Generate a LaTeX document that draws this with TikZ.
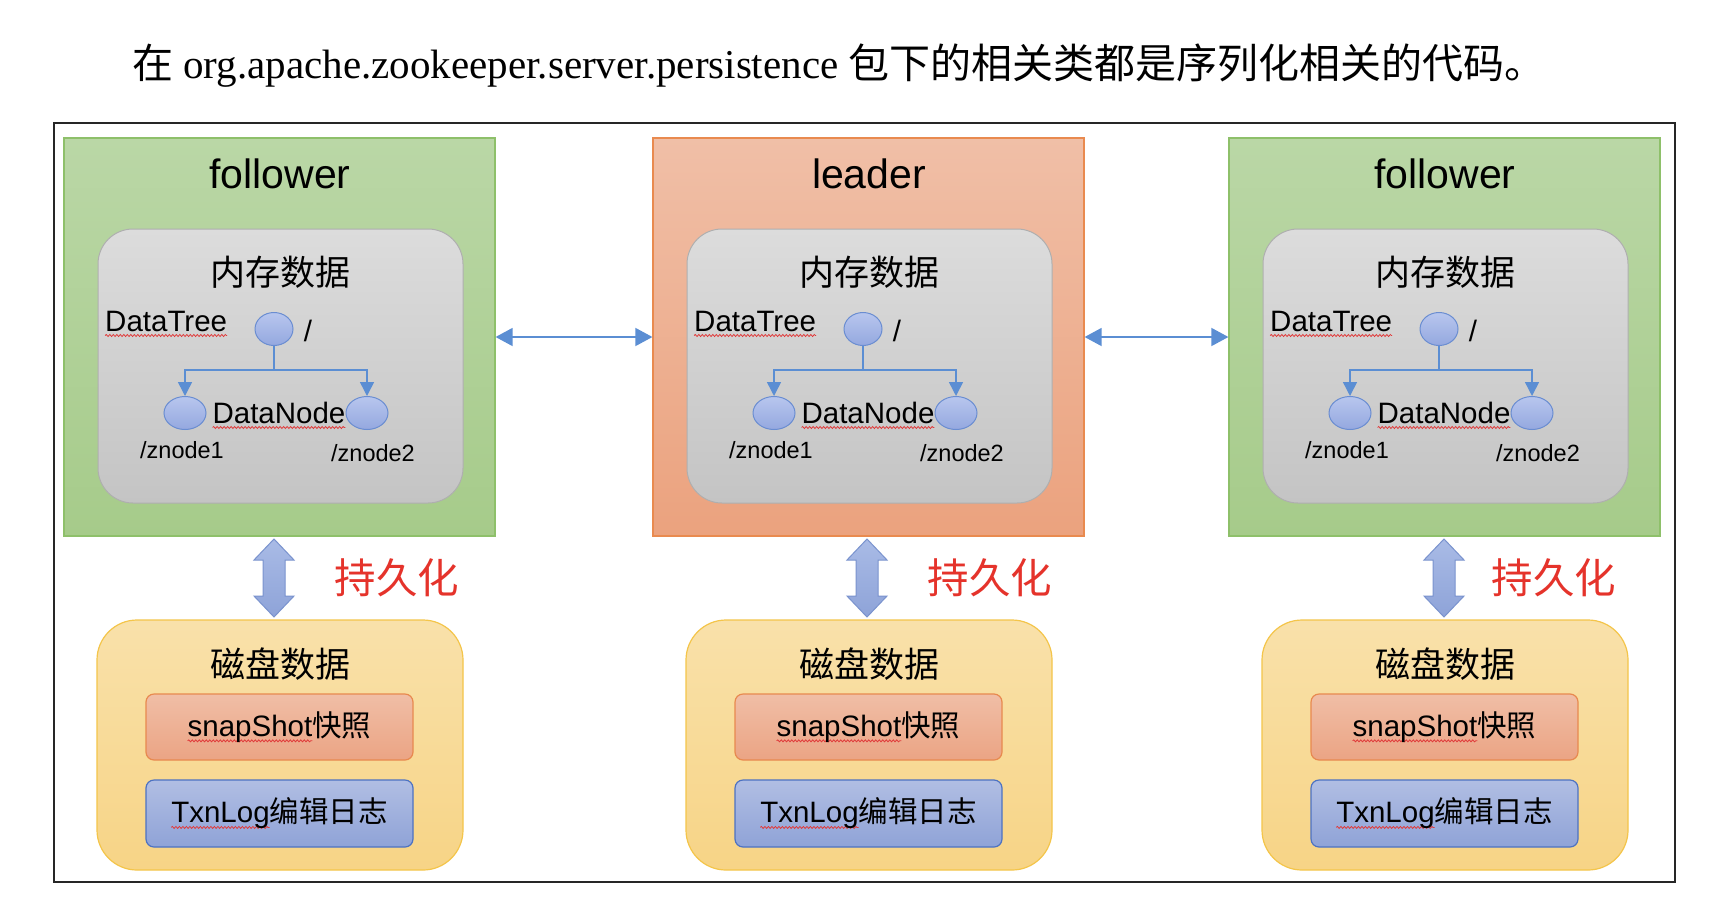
\documentclass[tikz,border=0pt]{standalone}
\usepackage{fontspec}
\setmainfont{Liberation Serif}
\newfontfamily\lsans{Liberation Sans}
\newfontfamily\cjk{Noto Sans CJK SC}
\usetikzlibrary{shapes.geometric,arrows.meta,decorations.pathmorphing}
\definecolor{gTop}{HTML}{BAD7A6}
\definecolor{gBot}{HTML}{A6CB8A}
\definecolor{gBd}{HTML}{8EC06A}
\definecolor{oTop}{HTML}{F0BFA7}
\definecolor{oBot}{HTML}{EBA27E}
\definecolor{oBd}{HTML}{E98A4F}
\definecolor{memTop}{HTML}{DCDCDC}
\definecolor{memBot}{HTML}{C4C4C4}
\definecolor{memBd}{HTML}{AFAFAF}
\definecolor{diskTop}{HTML}{F9E1AA}
\definecolor{diskBot}{HTML}{F7D486}
\definecolor{diskBd}{HTML}{F4C54A}
\definecolor{snapTop}{HTML}{F0BEA6}
\definecolor{snapBot}{HTML}{EBA484}
\definecolor{snapBd}{HTML}{E8894F}
\definecolor{txnTop}{HTML}{B1BEE3}
\definecolor{txnBot}{HTML}{8FA3D7}
\definecolor{txnBd}{HTML}{4D72C2}
\definecolor{zTop}{HTML}{B8C6EE}
\definecolor{zBot}{HTML}{94A8DF}
\definecolor{zBd}{HTML}{6A8DD1}
\definecolor{linkcol}{HTML}{5B8ED3}
\definecolor{perTop}{HTML}{A9BBE6}
\definecolor{perBot}{HTML}{8EA3D8}
\definecolor{perBd}{HTML}{7A93CE}
\definecolor{redtext}{HTML}{E5332B}
\definecolor{squigred}{HTML}{E03A3A}
\newsavebox\squigbox
\newcommand\squig[1]{\sbox\squigbox{#1}\rlap{\tikz[overlay,baseline=0pt]\draw[squigred,line width=0.8pt,decorate,decoration={snake,amplitude=1pt,segment length=3.5pt}](0pt,-4.5pt)--(\wd\squigbox,-4.5pt);}\usebox\squigbox}
\begin{document}
\begin{tikzpicture}[x=1pt,y=-1pt,
  frame/.style={draw=black!85,line width=1.5pt,rectangle,minimum width=1621,minimum height=759,inner sep=0},
  server/.style={rectangle,minimum width=431,minimum height=398,line width=1.2pt,inner sep=0},
  membox/.style={rectangle,rounded corners=35pt,minimum width=365,minimum height=274,top color=memTop,bottom color=memBot,draw=memBd,line width=1pt,inner sep=0},
  diskbox/.style={rectangle,rounded corners=40pt,minimum width=366,minimum height=250,top color=diskTop,bottom color=diskBot,draw=diskBd,line width=1.2pt,inner sep=0},
  snapbox/.style={rectangle,rounded corners=8pt,minimum width=267,minimum height=66,top color=snapTop,bottom color=snapBot,draw=snapBd,line width=1.2pt,inner sep=0},
  txnbox/.style={rectangle,rounded corners=8pt,minimum width=267,minimum height=67,top color=txnTop,bottom color=txnBot,draw=txnBd,line width=1.2pt,inner sep=0},
  znode/.style={ellipse,minimum width=40,minimum height=33,top color=zTop,bottom color=zBot,draw=zBd,line width=1pt,inner sep=0},
  titletext/.style={font=\lsans\fontsize{41}{48}\selectfont,inner sep=0},
  cjkhead/.style={font=\cjk\fontsize{35}{42}\selectfont,inner sep=0},
  treelabel/.style={font=\lsans\fontsize{29.5}{34}\selectfont,inner sep=0},
  pathlabel/.style={font=\lsans\fontsize{23.5}{28}\selectfont,inner sep=0},
  boxlabel/.style={font=\lsans\fontsize{29.5}{34}\selectfont,inner sep=0},
  persisttext/.style={font=\cjk\fontsize{41.5}{48}\selectfont,text=redtext,inner sep=0},
  tree/.style={draw=linkcol,line width=1.5pt},
  treearrow/.style={tree,-{Triangle[width=14pt,length=14pt]}},
  link/.style={draw=linkcol,line width=1.5pt,{Triangle[width=18pt,length=17pt]}-{Triangle[width=18pt,length=17pt]}},
  persist/.style={top color=perTop,bottom color=perBot,draw=perBd,line width=1pt}
]
\useasboundingbox (0,0) rectangle (1720,900);
\fill[white] (0,0) rectangle (1720,900);
\node[anchor=base west,inner sep=0,font=\fontsize{41}{48}\selectfont] (title) at (132,78)
  {{\cjk 在} org.apache.zookeeper.server.persistence {\cjk 包下的相关类都是序列化相关的代码。}};
\node[frame] (frame) at (864.5,502.5) {};
\foreach \dx/\col/\ttl/\ct/\cb/\cd/\ax/\px in {0/L/follower/gTop/gBot/gBd/274/397, 589/M/leader/oTop/oBot/oBd/867/990, 1165/R/follower/gTop/gBot/gBd/1444/1554} {
  \node[server,top color=\ct,bottom color=\cb,draw=\cd] (srv\col) at ({\dx+279.5},337) {};
  \node[titletext] (head\col) at ({\dx+280},174) {\ttl};
  \node[membox] (mem\col) at ({\dx+280.5},366) {};
  \node[cjkhead] (memlabel\col) at ({\dx+280},272) {内存数据};
  \node[treelabel,anchor=base west] (dt\col) at ({\dx+105},331) {\squig{DataTree}};
  \node[znode,minimum width=38] (root\col) at ({\dx+274},329) {};
  \node[treelabel] (slash\col) at ({\dx+308},331) {/};
  \node[znode,minimum width=42] (za\col) at ({\dx+185},413) {};
  \node[znode,minimum width=42] (zb\col) at ({\dx+367},413) {};
  \node[treelabel,anchor=base] (dn\col) at ({\dx+279},423) {\squig{DataNode}};
  \node[pathlabel] (pa\col) at ({\dx+182},450) {/znode1};
  \node[pathlabel] (pb\col) at ({\dx+373},453) {/znode2};
  \coordinate (j\col) at ({\dx+274},370);
  \draw[tree] (root\col) -- (j\col);
  \draw[treearrow] (j\col) -| (za\col);
  \draw[treearrow] (j\col) -| (zb\col);
  \node[diskbox] (disk\col) at ({\dx+280},745) {};
  \node[cjkhead] (disklabel\col) at ({\dx+280},664) {磁盘数据};
  \node[snapbox] (snap\col) at ({\dx+279.5},727) {};
  \node[boxlabel] (snaplabel\col) at ({\dx+279.5},727) {\squig{snapShot}{\cjk 快照}};
  \node[txnbox] (txn\col) at ({\dx+279.5},813.5) {};
  \node[boxlabel] (txnlabel\col) at ({\dx+279.5},813.5) {\squig{TxnLog}{\cjk 编辑日志}};
  \draw[persist] (\ax,539) -- ({\ax+20},560) -- ({\ax+11},560) -- ({\ax+11},596) -- ({\ax+20},596)
     -- (\ax,617) -- ({\ax-20},596) -- ({\ax-11},596) -- ({\ax-11},560) -- ({\ax-20},560) -- cycle;
  \node[persisttext] (per\col) at (\px,578) {持久化};
}
\draw[link] (srvL.east) -- (srvM.west);
\draw[link] (srvM.east) -- (srvR.west);
\end{tikzpicture}
\end{document}
